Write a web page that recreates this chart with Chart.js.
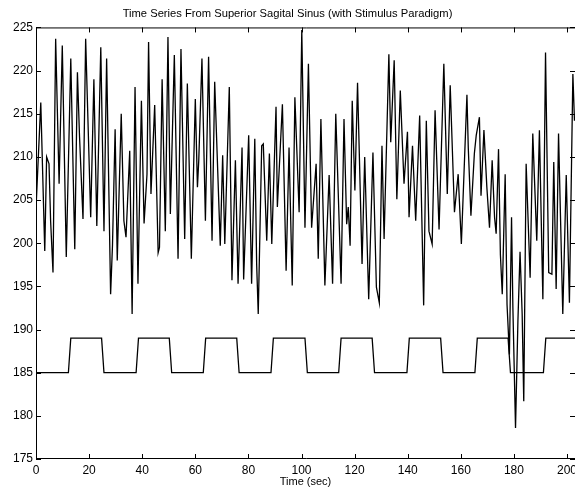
<!DOCTYPE html>
<html>
<head>
<meta charset="utf-8">
<script src="https://cdn.jsdelivr.net/npm/chart.js@4"></script>
<style>
  html, body { margin: 0; padding: 0; background: #fff; overflow: hidden; }
</style>
</head>
<body>
<canvas id="diagramm" width="575" height="491"></canvas>
<script>
// Zeitreihe (Sekunden / Signalwert)
const times = [
  0, 1.8, 3.3, 4.0, 4.9, 5.5, 6.4, 7.4, 8.7, 9.9, 11.4, 13.1, 14.6, 15.6, 16.4, 17.7, 18.7,
  20.6, 21.8, 22.9, 24.4, 25.6, 26.6, 28.1, 28.8, 29.8, 30.6, 32.1, 33.1, 33.9, 35.3, 36.2,
  37.3, 38.4, 39.7, 40.7, 41.8, 42.4, 43.3, 44.7, 46.0, 46.5, 47.5, 48.7, 49.7, 50.6, 52.1,
  53.5, 54.6, 56.0, 57.0, 58.5, 60.0, 60.8, 61.3, 62.5, 63.8, 65.0, 66.3, 67.3, 69.4, 70.3,
  71.1, 72.8, 73.8, 75.1, 76.1, 77.6, 78.2, 80.1, 81.2, 82.4, 83.1, 83.7, 85.0, 85.6, 86.9,
  87.9, 88.8, 90.4, 90.9, 92.8, 94.2, 95.3, 96.5, 97.5, 99.1, 100.1, 101.3, 102.6, 103.8,
  105.5, 106.3, 107.3, 108.8, 110.4, 111.7, 112.9, 114.9, 116.0, 117.0, 117.6, 118.3, 119.1,
  120.1, 121.1, 122.8, 123.8, 125.3, 126.9, 128.2, 129.3, 130.3, 131.1, 132.9, 133.6, 134.9,
  135.9, 137.2, 138.6, 139.9, 140.5, 141.8, 143.0, 144.5, 146.0, 147.0, 148.0, 149.2, 150.3,
  151.8, 153.6, 154.9, 156.0, 157.6, 159.0, 160.2, 162.3, 162.8, 163.8, 165.1, 165.8, 167.0,
  167.6, 168.7, 169.8, 170.8, 171.8, 172.7, 173.3, 174.2, 174.9, 175.6, 176.7, 177.4, 178.3,
  179.1, 179.6, 180.6, 181.5, 182.3, 183.1, 183.7, 184.6, 186.1, 187.1, 188.6, 189.6, 190.9,
  191.9, 193.1, 194.3, 195.0, 195.9, 196.8, 198.4, 199.7, 200.9, 202.2, 202.8
];
const signal = [
  204, 216.3, 199.1, 210, 209.2, 202.6, 196.6, 223.7, 206.9, 222.9, 198.4, 221.4, 199.3, 219.8, 212.3, 202.8, 223.7,
  203, 219, 202, 222.7, 201.4, 221.4, 194.1, 199.7, 213.2, 198, 215, 202.6, 200.7, 210.7, 191.8,
  218.1, 195.3, 216.5, 202.3, 208, 223.3, 205.7, 216, 198.9, 199.5, 219, 201.4, 223.9, 203.4, 221.8,
  198.2, 222.5, 200.5, 218.5, 198.2, 216.7, 206.5, 209.6, 221.4, 202.6, 221.6, 200.3, 218.7, 199.7, 210.2,
  199.9, 218.1, 195.7, 209.6, 195.3, 211.1, 195.8, 212.5, 195.3, 212.1, 197.6, 191.8, 211.3, 211.5, 200.3,
  210.4, 199.9, 215.8, 204.2, 216.1, 196.8, 211.1, 195.1, 216.9, 203.6, 224.7, 201.8, 220.8, 201.8,
  209.2, 198.2, 214.4, 195.1, 207.9, 195.3, 215, 195.3, 214.4, 202.2, 204.2, 199.7, 216.5,
  206.1, 218.6, 197.6, 210, 193.5, 210.5, 194.9, 193.1, 211.3, 200.5, 221.9, 211.7, 221.2,
  205.1, 217.7, 206.9, 212.9, 203, 211.3, 202.6, 214.8, 192.8, 214.2, 201.4, 199.9, 215.4,
  201.6, 220.8, 205.7, 218.3, 203.6, 208, 199.9, 217.2, 211.1, 203.2, 210.4, 212.5, 214.6,
  205.5, 213.1, 206.5, 201.8, 209.6, 203, 201.1, 210.9, 198.7, 194.1, 208, 192.9, 187.1,
  203, 192.6, 178.6, 191, 199, 191.8, 181.7, 209.2, 196, 212.7, 200.3, 213.1, 193.5,
  222.1, 196.6, 196.4, 209.4, 194.7, 212.7, 191.8, 207.9, 193.1, 219.6, 214.2
];

// Stimulus-Paradigma (Rechteck 185 / 189)
const stimTimes = [
  0, 12.2, 13.1, 24.7, 25.6, 37.7, 38.6, 50.2, 51.1, 63.0, 63.9, 75.6, 76.5, 88.5, 89.4,
  101.3, 102.2, 114.0, 114.9, 126.6, 127.5, 139.7, 140.6, 152.4, 153.3, 165.3, 166.2,
  177.8, 178.7, 191.1, 192.0, 204
];
const stimLevels = [
  185, 185, 189, 189, 185, 185, 189, 189, 185, 185, 189, 189, 185, 185, 189,
  189, 185, 185, 189, 189, 185, 185, 189, 189, 185, 185, 189,
  189, 185, 185, 189, 189
];

const xMin = 0, xMax = 203, xStep = 20;
const yMin = 175, yMax = 225, yStep = 5;

const FONT = "'Liberation Sans', Arial, Helvetica, sans-serif";

// Rahmen + nach innen zeigende Ticks (MATLAB-Stil)
const matlabFrame = {
  id: 'matlabFrame',
  afterDraw(chart) {
    const ctx = chart.ctx;
    const a = chart.chartArea;
    const xs = chart.scales.x, ys = chart.scales.y;
    const len = 5;
    ctx.save();
    ctx.strokeStyle = '#000';
    ctx.lineWidth = 1;
    ctx.beginPath();
    // links, unten, oben (rechter Rand liegt ausserhalb des Bildes)
    ctx.moveTo(a.left + 0.5, a.top + 0.5);
    ctx.lineTo(a.left + 0.5, a.bottom - 0.5);
    ctx.lineTo(a.right + 2, a.bottom - 0.5);
    ctx.moveTo(a.left + 0.5, a.top + 0.5);
    ctx.lineTo(a.right + 2, a.top + 0.5);
    xs.ticks.forEach(t => {
      const px = Math.round(xs.getPixelForValue(t.value)) + 0.5;
      ctx.moveTo(px, a.bottom); ctx.lineTo(px, a.bottom - len);
      ctx.moveTo(px, a.top); ctx.lineTo(px, a.top + len);
    });
    ys.ticks.forEach(t => {
      const py = Math.round(ys.getPixelForValue(t.value)) + 0.5;
      ctx.moveTo(a.left, py); ctx.lineTo(a.left + len, py);
      ctx.moveTo(a.right, py); ctx.lineTo(a.right - len, py);
    });
    ctx.stroke();
    ctx.restore();
  }
};

const ctx = document.getElementById('diagramm').getContext('2d');
new Chart(ctx, {
  type: 'line',
  data: {
    datasets: [
      {
        label: 'Signal',
        data: times.map((t, i) => ({ x: t, y: signal[i] })),
        borderColor: '#000',
        borderWidth: 1.3,
        pointRadius: 0,
        tension: 0
      },
      {
        label: 'Stimulus',
        data: stimTimes.map((t, i) => ({ x: t, y: stimLevels[i] })),
        borderColor: '#000',
        borderWidth: 1.3,
        pointRadius: 0,
        tension: 0
      }
    ]
  },
  options: {
    responsive: false,
    animation: false,
    layout: { autoPadding: false, padding: { left: 0, right: 0, top: 0, bottom: 0 } },
    plugins: {
      legend: { display: false },
      tooltip: { enabled: false },
      title: {
        display: true,
        text: 'Time Series From Superior Sagital Sinus (with Stimulus Paradigm)',
        color: '#000',
        font: { family: FONT, size: 11.2, weight: 'normal' },
        padding: { top: 7, bottom: 7 },
        align: 'center',
        fullSize: true
      }
    },
    scales: {
      x: {
        type: 'linear',
        min: xMin,
        max: xMax,
        afterFit: s => { s.height = 32; s.paddingLeft = 0; s.paddingRight = 0; },
        ticks: {
          stepSize: xStep,
          includeBounds: false,
          color: '#000',
          padding: 4,
          maxRotation: 0,
          font: { family: FONT, size: 12 }
        },
        grid: { display: false, drawTicks: false },
        border: { display: false },
        title: {
          display: true,
          text: 'Time (sec)',
          color: '#000',
          font: { family: FONT, size: 11 },
          padding: { top: 0, bottom: 2 }
        }
      },
      y: {
        min: yMin,
        max: yMax,
        afterFit: s => { s.width = 36; },
        ticks: {
          stepSize: yStep,
          color: '#000',
          padding: 3,
          font: { family: FONT, size: 12 }
        },
        grid: { display: false, drawTicks: false },
        border: { display: false }
      }
    }
  },
  plugins: [matlabFrame]
});
</script>
</body>
</html>
